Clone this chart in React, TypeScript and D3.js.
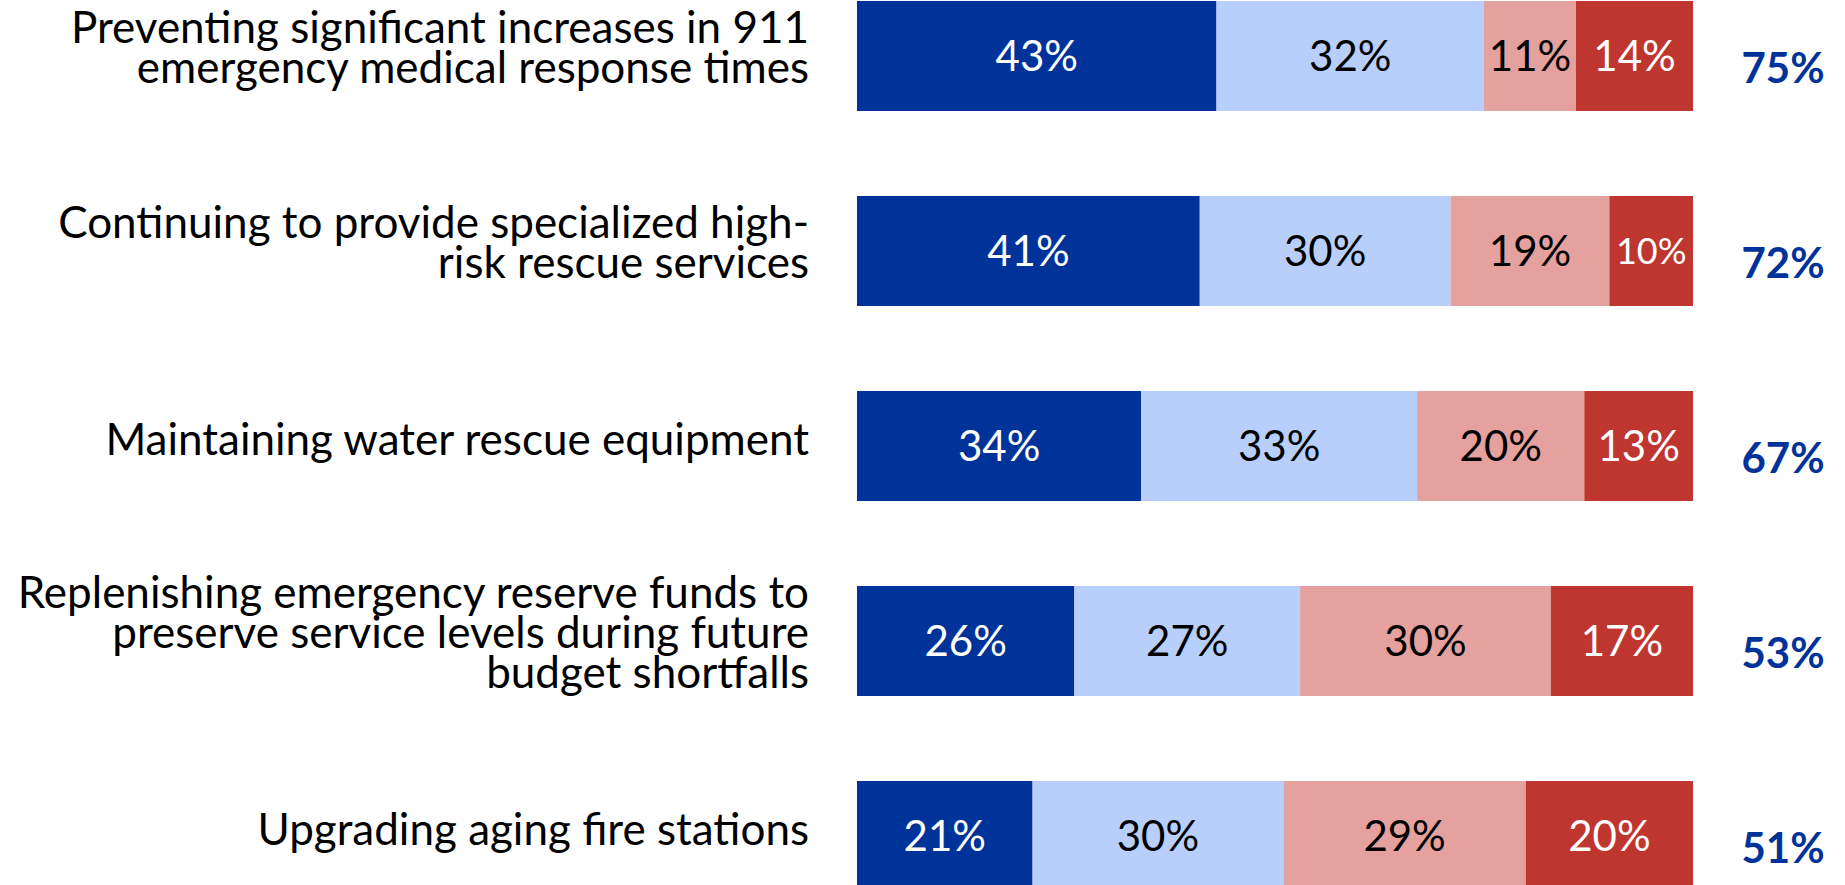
import React from 'react';
import * as d3 from 'd3';

// survey items, top to bottom (line breaks as in the original)
const categories = [
  ['Preventing significant increases in 911', 'emergency medical response times'],
  ['Continuing to provide specialized high-', 'risk rescue services'],
  ['Maintaining water rescue equipment'],
  ['Replenishing emergency reserve funds to', 'preserve service levels during future', 'budget shortfalls'],
  ['Upgrading aging fire stations'],
];

const seriesKeys = ['Extremely important', 'Very important', 'Somewhat important', 'Not too important'];

const extremely = [43, 41, 34, 26, 21];
const very = [32, 30, 33, 27, 30];
const somewhat = [11, 19, 20, 30, 29];
const notToo = [14, 10, 13, 17, 20];
const totals = [75, 72, 67, 53, 51];

const colors = ['#003399', '#b8cffc', '#e5a19e', '#bf3630'];
const textColors = ['#ffffff', '#000000', '#000000', '#ffffff'];

const width = 1845;
const height = 885;
const font = 'Lato, "Open Sans", sans-serif';

const App = () => {
  const rows = categories.map((c, i) => ({
    key: c.join(' '),
    lines: c,
    [seriesKeys[0]]: extremely[i],
    [seriesKeys[1]]: very[i],
    [seriesKeys[2]]: somewhat[i],
    [seriesKeys[3]]: notToo[i],
    total: totals[i],
  }));

  const x = d3.scaleLinear().domain([0, 100]).range([857, 1693]);
  const y = d3.scaleBand()
    .domain(rows.map(d => d.key))
    .range([1, 891])
    .paddingInner(0.436)
    .paddingOuter(0);

  const stack = d3.stack().keys(seriesKeys);
  const layers = stack(rows as any);

  const lineGap = 40;

  return (
    <div style={{ position: 'fixed', left: 0, top: 0 }}>
      <svg width={width} height={height} style={{ display: 'block', background: '#fff' }}>
        {layers.map((layer, si) => (
          <g key={layer.key}>
            {layer.map((d: any, i) => {
              const x0 = x(d[0]);
              const x1 = x(d[1]);
              const yy = y(rows[i].key)!;
              const v = d[1] - d[0];
              return (
                <g key={i}>
                  <rect x={x0} y={yy} width={x1 - x0} height={y.bandwidth()} fill={colors[si]} />
                  <text
                    x={(x0 + x1) / 2}
                    y={yy + y.bandwidth() / 2}
                    dy="0.35em"
                    textAnchor="middle"
                    fill={textColors[si]}
                    fontFamily={font}
                    fontSize={v <= 10 ? 36 : 42}
                  >
                    {v}%
                  </text>
                </g>
              );
            })}
          </g>
        ))}
        {rows.map((r, i) => {
          const cy = y(r.key)! + y.bandwidth() / 2;
          const n = r.lines.length;
          const off = n === 1 ? 9 : 7;
          return (
            <g key={r.key}>
              <text
                textAnchor="end"
                fontFamily={font}
                fontSize={44}
                fill="#000"
              >
                {r.lines.map((ln, li) => (
                  <tspan key={li} x={809} y={cy + off + (li - (n - 1) / 2) * lineGap}>{ln}</tspan>
                ))}
              </text>
              <text
                x={1783}
                y={cy + 12}
                dy="0.35em"
                textAnchor="middle"
                fontFamily={font}
                fontWeight="bold"
                fontSize={42}
                fill="#003399"
              >
                {r.total}%
              </text>
            </g>
          );
        })}
      </svg>
    </div>
  );
};

export default App;
